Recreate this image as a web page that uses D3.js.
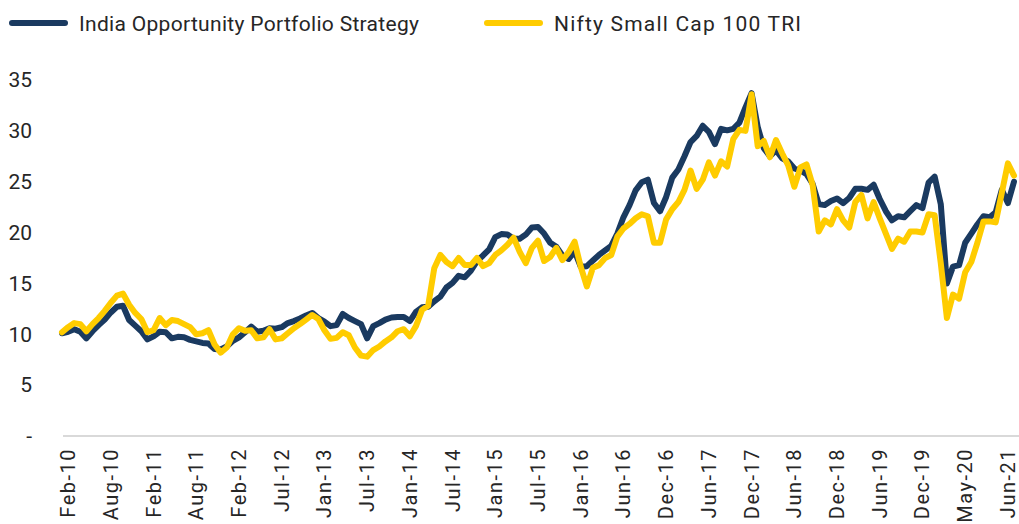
<!DOCTYPE html>
<html>
<head>
<meta charset="utf-8">
<script src="https://cdn.jsdelivr.net/npm/d3@7"></script>
<style>
  html, body { margin: 0; padding: 0; background: #fff; }
  svg { display: block; }
  text { font-family: Roboto, "Noto Sans", sans-serif; fill: #262626; }
</style>
</head>
<body>
<svg id="chart" width="1019" height="524"></svg>
<script>
// ---- data ----
const seriesNames = ["India Opportunity Portfolio Strategy", "Nifty Small Cap 100 TRI"];
const seriesColors = ["#1a3a60", "#ffcc00"];

const xLabels = ["Feb-10","Aug-10","Feb-11","Aug-11","Feb-12","Jul-12","Jan-13","Jul-13","Jan-14","Jul-14","Jan-15","Jul-15","Jan-16","Jun-16","Dec-16","Jun-17","Dec-17","Jun-18","Dec-18","Jun-19","Dec-19","May-20","Jun-21"];
const pointsPerLabel = 7;   // data points between two axis labels
const firstLabelPoint = 1;  // data index of the first label

const yTicks = [0, 5, 10, 15, 20, 25, 30, 35];

const portfolio = [10.1,10.25,10.5,10.25,9.6,10.3,10.9,11.45,12.15,12.7,
12.8,11.4,10.85,10.3,9.5,9.8,10.25,10.2,9.6,9.75,
9.7,9.45,9.3,9.15,9.1,8.55,8.5,8.8,9.35,9.7,
10.2,10.75,10.25,10.35,10.6,10.55,10.7,11.1,11.3,11.55,
11.85,12.1,11.6,11.25,10.8,10.9,12.0,11.6,11.3,11.0,
9.6,10.8,11.1,11.45,11.65,11.7,11.7,11.3,12.2,12.65,
12.7,13.25,13.7,14.6,15.05,15.75,15.6,16.25,17.2,17.75,
18.35,19.55,19.85,19.8,19.4,19.4,19.8,20.5,20.55,19.9,
19.0,18.6,17.75,17.4,18.15,16.65,16.7,17.25,17.8,18.25,
18.7,19.9,21.5,22.7,24.15,24.95,25.2,22.9,22.1,23.5,
25.4,26.2,27.5,28.9,29.5,30.5,29.9,28.7,30.2,30.05,
30.2,30.8,32.3,33.7,30.4,28.3,27.5,28.1,27.3,27.0,
26.3,26.1,25.75,24.8,22.8,22.7,23.1,23.35,22.9,23.4,
24.3,24.3,24.2,24.7,23.3,22.1,21.2,21.6,21.5,22.1,
22.7,22.4,24.9,25.5,22.8,15.0,16.65,16.8,19.0,19.9,
20.8,21.6,21.5,22.0,24.2,22.9,25.0];

const nifty = [10.2,10.7,11.1,11.0,10.3,11.0,11.6,12.3,13.1,13.8,
14.0,12.9,12.1,11.5,10.2,10.4,11.6,10.9,11.4,11.3,
11.0,10.7,10.0,10.1,10.4,9.0,8.2,8.7,10.0,10.6,
10.35,10.4,9.6,9.7,10.5,9.5,9.6,10.1,10.6,11.0,
11.45,11.9,11.5,10.4,9.55,9.65,10.2,9.9,8.7,7.9,
7.8,8.45,8.8,9.3,9.7,10.3,10.5,9.8,10.8,12.4,
12.8,16.5,17.8,17.1,16.7,17.5,16.8,16.8,17.5,16.7,
17.0,17.8,18.25,18.8,19.5,18.1,17.0,18.5,19.2,17.2,
17.6,18.5,17.3,18.05,19.1,16.65,14.7,16.55,16.8,17.5,
17.8,19.6,20.4,20.85,21.4,21.8,21.6,19.0,19.0,21.3,
22.3,23.0,24.2,26.1,24.3,25.2,26.9,25.6,27.0,26.5,
29.2,30.1,30.0,33.6,28.5,29.0,27.4,29.1,27.8,26.6,
24.5,26.4,26.7,24.7,20.1,21.2,20.8,22.3,21.2,20.5,
23.0,23.7,21.4,23.0,21.4,19.9,18.4,19.4,19.1,20.1,
20.1,20.0,21.8,21.7,17.0,11.6,13.9,13.5,16.1,17.1,
19.0,21.1,21.1,21.0,23.9,26.8,25.6];

// ---- layout ----
const svg = d3.select("#chart");
const plotLeft = 62, plotRight = 1014, yTop = 80, yBottom = 436;

const x = d3.scaleLinear().domain([0, portfolio.length - 1]).range([plotLeft, plotRight]);
const y = d3.scaleLinear().domain([0, 35]).range([yBottom, yTop]);

// x axis baseline
svg.append("line")
  .attr("x1", 63).attr("x2", 1019)
  .attr("y1", y(0)).attr("y2", y(0))
  .attr("stroke", "#d9d9d9").attr("stroke-width", 2);

// y axis labels
const yAxis = d3.axisLeft(y).tickValues(yTicks).tickSize(0).tickPadding(0)
  .tickFormat(d => d === 0 ? "-" : d3.format("d")(d));
const gy = svg.append("g").attr("transform", "translate(32,0)").call(yAxis);
gy.select(".domain").remove();
gy.selectAll("text").attr("font-size", 21).attr("fill", "#262626")
  .style("font-family", "Roboto, sans-serif");

// x axis labels
const labelPos = xLabels.map((l, k) => ({ label: l, idx: firstLabelPoint + k * pointsPerLabel }));
svg.append("g").selectAll("text").data(labelPos).join("text")
  .attr("transform", d => `translate(${x(d.idx)},448) rotate(-90)`)
  .attr("text-anchor", "end")
  .attr("dy", "0.35em")
  .attr("font-size", 20)
  .attr("letter-spacing", 1.5)
  .text(d => d.label);

// lines
const line = d3.line().x((d, i) => x(i)).y(d => y(d)).curve(d3.curveLinear);
[portfolio, nifty].forEach((s, i) => {
  svg.append("path")
    .datum(s)
    .attr("fill", "none")
    .attr("stroke", seriesColors[i])
    .attr("stroke-width", 6)
    .attr("stroke-linejoin", "round")
    .attr("stroke-linecap", "round")
    .attr("d", line);
});

// legend
const legendItems = [
  { name: seriesNames[0], color: seriesColors[0], x: 12, w: 340 },
  { name: seriesNames[1], color: seriesColors[1], x: 487, w: 247 }
];
const lg = svg.append("g").selectAll("g").data(legendItems).join("g")
  .attr("transform", d => `translate(${d.x},23)`);
lg.append("line").attr("x1", 0).attr("x2", 53).attr("y1", 0).attr("y2", 0)
  .attr("stroke", d => d.color).attr("stroke-width", 6).attr("stroke-linecap", "round");
lg.append("text").attr("x", 67).attr("y", 8).attr("font-size", 21)
  .attr("textLength", d => d.w).attr("lengthAdjust", "spacing")
  .text(d => d.name);
</script>
</body>
</html>
